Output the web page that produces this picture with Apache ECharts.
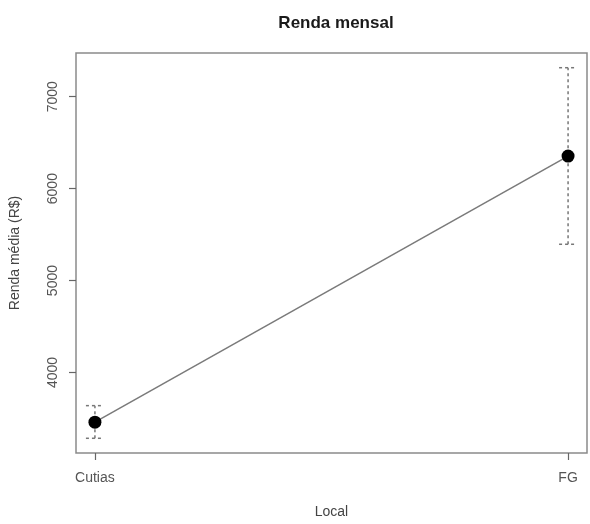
<!DOCTYPE html>
<html>
<head>
<meta charset="utf-8">
<script src="https://cdn.jsdelivr.net/npm/echarts@6/dist/echarts.min.js"></script>
<style>
html,body{margin:0;padding:0;background:#fff;}
#chart{width:590px;height:524px;}
</style>
</head>
<body>
<div id="chart"></div>
<script>
var categories = ["Cutias", "FG"];
var means = [3460, 6354];
var lowers = [3285, 5395];
var uppers = [3640, 7315];
var yTicks = [4000, 5000, 6000, 7000];

var FONT = "Liberation Sans, Arial, sans-serif";
var xPos = categories.map(function (c, i) { return i + 1; });

var chart = echarts.init(document.getElementById('chart'), null, {renderer: 'canvas'});

var option = {
  backgroundColor: '#ffffff',
  animation: false,
  title: {
    text: 'Renda mensal',
    left: 331, top: 10, textAlign: 'center',
    textStyle: {fontFamily: FONT, fontSize: 17, fontWeight: 'bold', color: '#1a1a1a'}
  },
  grid: {
    left: 73, right: 3, top: 53, bottom: 65,
    show: true, borderColor: '#8a8a8a', borderWidth: 1.5, backgroundColor: 'transparent'
  },
  xAxis: {
    type: 'value', min: 0.96, max: 2.04,
    name: 'Local', nameLocation: 'middle', nameGap: 52,
    nameTextStyle: {fontFamily: FONT, fontSize: 14, color: '#444'},
    axisLine: {show: false},
    splitLine: {show: false},
    axisTick: {show: true, inside: false, length: 7, customValues: xPos,
               lineStyle: {color: '#666', width: 1.2}},
    axisLabel: {
      show: true, margin: 18, customValues: xPos,
      fontFamily: FONT, fontSize: 14, color: '#555',
      formatter: function (v) { return categories[Math.round(v) - 1] || ''; }
    }
  },
  yAxis: {
    type: 'value', min: 3125, max: 7475,
    name: 'Renda média (R$)', nameLocation: 'middle', nameGap: 54, nameRotate: 90,
    nameTextStyle: {fontFamily: FONT, fontSize: 14, color: '#444'},
    axisLine: {show: false},
    splitLine: {show: false},
    axisTick: {show: true, inside: false, length: 7, customValues: yTicks,
               lineStyle: {color: '#666', width: 1.2}},
    axisLabel: {
      show: true, margin: 16, rotate: 90, customValues: yTicks,
      fontFamily: FONT, fontSize: 14, color: '#555',
      formatter: function (v) { return String(Math.round(v)); }
    }
  },
  series: [
    {
      type: 'custom',
      name: 'erro',
      data: categories.map(function (c, i) { return [xPos[i], lowers[i], uppers[i]]; }),
      renderItem: function (params, api) {
        var x = api.value(0);
        var lo = api.coord([x, api.value(1)]);
        var hi = api.coord([x, api.value(2)]);
        var half = 9;
        var style = {stroke: '#777', lineWidth: 1.5, lineDash: [3, 3], fill: null};
        return {
          type: 'group',
          children: [
            {type: 'line', shape: {x1: lo[0], y1: lo[1], x2: hi[0], y2: hi[1]}, style: style},
            {type: 'line', shape: {x1: lo[0] - half, y1: lo[1], x2: lo[0] + half, y2: lo[1]}, style: style},
            {type: 'line', shape: {x1: hi[0] - half, y1: hi[1], x2: hi[0] + half, y2: hi[1]}, style: style}
          ]
        };
      },
      z: 1
    },
    {
      type: 'line',
      name: 'média',
      data: categories.map(function (c, i) { return [xPos[i], means[i]]; }),
      symbol: 'circle', symbolSize: 13,
      itemStyle: {color: '#000'},
      lineStyle: {color: '#7a7a7a', width: 1.5},
      z: 3
    }
  ]
};
chart.setOption(option);
</script>
</body>
</html>
